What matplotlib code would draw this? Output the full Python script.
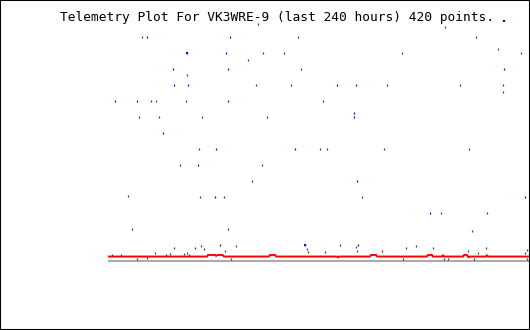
import matplotlib.pyplot as plt
from matplotlib.patches import Rectangle

# figure is 530x330 px, x axis = hours over the last 240 hours
title = 'Telemetry Plot For VK3WRE-9 (last 240 hours) 420 points.'

# main telemetry trace (red)
red_hours = [0, 56.0, 56.6, 60.6, 61.2, 62.1, 64.9, 65.7, 91.4, 92.0, 94.9, 95.5,
             130.3, 130.9, 131.5, 149.1, 149.7, 152.6, 153.2, 181.7, 182.3, 184.6,
             185.1, 190.3, 190.9, 191.5, 202.3, 202.9, 204.6, 205.1, 205.7, 206.3,
             215.4, 216.0, 216.6, 240]
red_vals = [0.26, 0.26, 0.36, 0.36, 0.30, 0.36, 0.36, 0.26, 0.26, 0.36, 0.36, 0.26,
            0.26, 0.20, 0.26, 0.26, 0.36, 0.36, 0.26, 0.26, 0.36, 0.36,
            0.26, 0.26, 0.34, 0.26, 0.26, 0.36, 0.36, 0.26, 0.20, 0.26,
            0.26, 0.34, 0.26, 0.26]

# other channels, dark grey marks
grey_hours = [19.0, 107.8, 209.9, 192.0, 85.3, 88.2, 100.2, 167.6, 235.6, 222.5,
              79.6, 109.9, 44.4, 84.2, 104.2, 159.0, 200.7, 225.3, 225.3, 24.2,
              27.0, 44.2, 122.5, 17.3, 28.7, 53.3, 90.5, 51.6, 120.7, 124.7,
              157.3, 205.9, 40.7, 87.6, 81.9, 11.0, 52.2, 65.9, 144.7, 189.9,
              216.2, 13.3, 68.2, 207.6,
              1.9, 6.7, 16.2, 21.9, 26.5, 32.7, 35.0, 37.3, 43.0, 44.7, 45.9,
              49.3, 52.7, 54.5, 66.5, 69.9, 72.7, 113.3, 113.9, 123.7, 132.2,
              141.3, 141.9, 156.2, 169.9, 175.6, 185.3, 205.3, 211.0, 215.6,
              237.9, 239.0, 168.2, 191.6, 193.9, 208.7, 239.0]
grey_vals = [14.0, 14.0, 14.0, 14.6, 14.8, 13.0, 13.0, 13.0, 13.0, 13.25,
             12.56, 12.0, 11.625, 11.0, 11.0, 11.0, 11.0, 11.0, 10.56, 10.0,
             10.0, 10.0, 10.0, 9.0, 9.0, 9.0, 9.0, 7.0, 7.0, 7.0,
             7.0, 7.0, 6.0, 6.0, 5.0, 4.04, 4.0, 4.0, 4.0, 3.0,
             3.0, 2.0, 2.0, 1.875,
             0.36, 0.36, 0.09, 0.17, 0.48, 0.36, 0.44, 0.81, 0.44, 0.48, 0.38,
             0.81, 0.94, 0.75, 0.625, 0.125, 0.94, 0.75, 0.54, 0.56, 1.0,
             0.875, 0.625, 0.625, 0.81, 0.94, 0.81, 0.625, 0.5, 0.81,
             0.5, 0.69, 0.125, 0.106, 0.106, 0.106, 0.125]

# second channel, blue marks
blue_hours = [21.9, 69.3, 44.4, 67.0, 36.3, 68.0, 225.9, 37.3, 45.3, 130.5, 141.3,
              3.6, 16.2, 68.2, 140.2, 140.2, 31.0, 61.3, 106.5, 51.0, 141.9,
              60.7, 237.9, 183.6, 63.6, 112.2, 142.5]
blue_vals = [14.0, 14.0, 13.0, 13.0, 12.0, 12.0, 12.0, 11.0, 11.0, 11.0, 11.0,
             10.0, 10.0, 10.0, 9.23, 8.98, 8.0, 7.0, 7.0, 6.0, 5.0,
             4.0, 4.0, 3.0, 1.0, 1.0, 1.0]
# the bigger blue squares
blue_big_hours = [44.4, 112.2, 225.6]
blue_big_vals = [13.0, 1.0, 15.0]

fig = plt.figure(figsize=(5.3, 3.3), dpi=100)
ax = fig.add_axes([109 / 530, (330 - 260.7) / 330, 421 / 530, 240 / 330])
ax.set_xlim(0, 240.6)
ax.set_ylim(0, 15)
ax.axis('off')

ax.axhline(0, color='#aaaaaa', lw=1.5, clip_on=False)
ax.plot(red_hours, red_vals, color='#ff0000', lw=1.4, clip_on=False)
ax.plot(grey_hours, grey_vals, ls='none', marker='|', ms=2.0, mew=0.9,
        color='#404040', clip_on=False, antialiased=False)
ax.plot(blue_hours, blue_vals, ls='none', marker='|', ms=2.0, mew=0.9,
        color='#0000ff', clip_on=False, antialiased=False)
ax.plot(blue_big_hours, blue_big_vals, ls='none', marker='s', ms=1.5, mew=0,
        color='#0000ff', clip_on=False, antialiased=False)

fig.text(60 / 530, 1 - 17.5 / 330, title, family='DejaVu Sans Mono',
         fontsize=9.25, va='center', ha='left', color='black')

fig.patches.append(Rectangle((0, 0), 1, 1, transform=fig.transFigure,
                             fill=False, edgecolor='black', lw=1.5))

fig.savefig('out.png', dpi=100)
